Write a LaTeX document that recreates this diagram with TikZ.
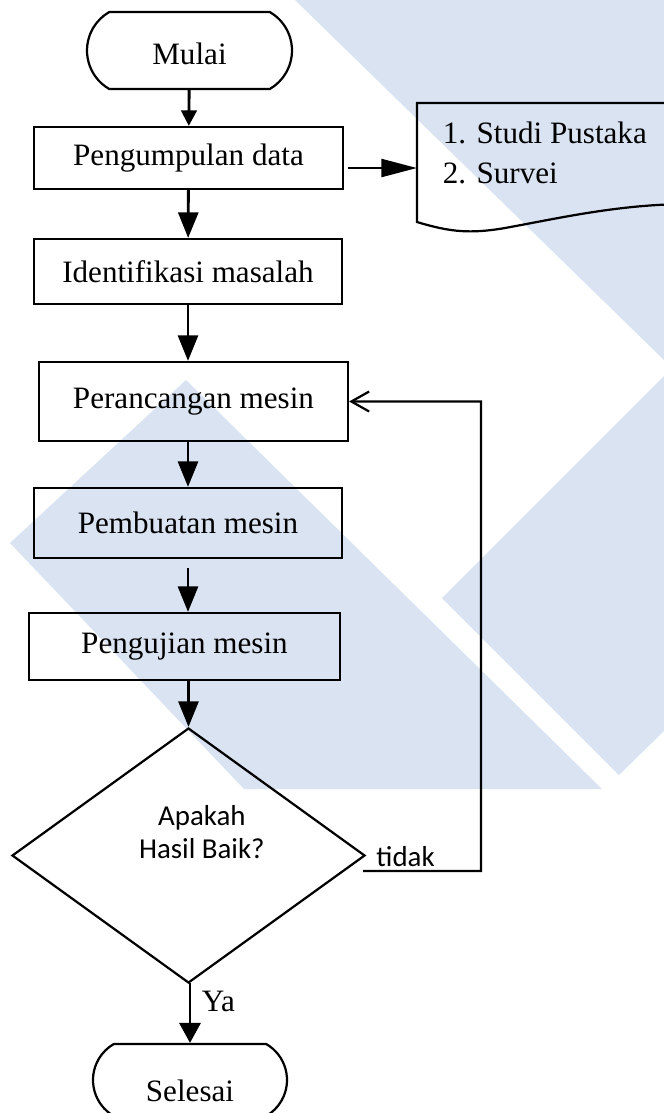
\documentclass[tikz,border=0pt]{standalone}
\usepackage{fontspec}
\setmainfont{Liberation Serif}
\newfontfamily\calibri{Carlito}
\usetikzlibrary{arrows.meta,shapes.geometric,shapes.misc,calc}
\def\pxu{0.45pt}
\definecolor{watermark}{RGB}{218,227,242}
\tikzset{
	teks/.style={font=\fontsize{14}{18}\selectfont},
	tekscal/.style={font=\calibri\fontsize{13}{15}\selectfont, align=center},
	proses/.style={draw, line width=1pt, rectangle, inner sep=0pt, teks},
	terminal/.style={draw, line width=1pt, rounded rectangle, rounded rectangle arc length=120, inner sep=0pt, teks},
	keputusan/.style={draw, line width=1pt, diamond, inner sep=0pt},
	panah/.style={line width=1.3pt, -{Triangle[length=11.5pt,width=9pt]}},
	balik/.style={line width=1pt, -{Straight Barb[length=8pt,width=9pt]}},
}

\begin{document}
\begin{tikzpicture}[x=0.45pt, y=-0.45pt]
			%%%%% START %%%%%
			\useasboundingbox (0, 0) rectangle (664, 1113);
			\clip (0, 0) rectangle (664, 1113);
			
			% background mark
			\fill[watermark] (295, 0) -- (664, 0) -- (664, 360) -- cycle;
			\fill[watermark] (10, 543) -- (186, 380) -- (602, 789) -- (244, 789) -- cycle;
			\fill[watermark] (442, 598) -- (664, 376) -- (664, 731) -- (619, 775) -- cycle;
			
			\node[terminal, minimum width=205*\pxu, minimum height=77*\pxu, text height=13pt, text depth=0pt] (mulai) at (189.5, 50.5) {Mulai};
			\node[proses, minimum width=309*\pxu, minimum height=62*\pxu] (kumpul) at (188.5, 158) {Pengumpulan data};
			\node[proses, minimum width=308*\pxu, minimum height=65*\pxu] (identif) at (188, 271.5) {Identifikasi masalah};
			\node[proses, minimum width=309*\pxu, minimum height=79*\pxu] (rancang) at (193.5, 401.5) {Perancangan mesin};
			\node[proses, minimum width=308*\pxu, minimum height=70*\pxu] (buat) at (188, 523) {Pembuatan mesin};
			\node[proses, minimum width=311*\pxu, minimum height=67*\pxu] (uji) at (184.5, 646.5) {Pengujian mesin};
			\node[keputusan, minimum width=353*\pxu, minimum height=255*\pxu,
				label={[tekscal, xshift=6pt, yshift=10.5pt]center:Apakah\\Hasil Baik?}] (cek) at (188.5, 855.5) {};
			\node[terminal, minimum width=194*\pxu, minimum height=72*\pxu, text height=19pt, text depth=0pt] (selesai) at (190, 1080) {Selesai};
			
			% dokumen
			\draw[line width=1pt] (690, 103) -- (417, 103) -- (417, 222)
				.. controls (450, 232) and (470, 234) .. (505, 228)
				.. controls (560, 218) and (620, 204) .. (690, 204);
			\node[teks, align=left, anchor=west, inner sep=2pt] (sumber) at (438, 153) {1. Studi Pustaka\\2. Survei};
			\coordinate (dok) at (417, 168);
			
			\draw[panah, -{Triangle[length=7pt,width=7pt]}] (mulai) -- (kumpul);
			\draw[panah, -{Triangle[length=16pt,width=8pt]}, shorten <=1.8pt] (kumpul.east |- dok) -- (dok);
			\draw[panah] (kumpul) -- (identif);
			\draw[panah] (identif.south) -- (identif.south |- rancang.north);
			\draw[panah] (buat.north |- rancang.south) -- (buat.north);
			\draw[panah] (uji.north -| buat.south) ++(0, -44) -- (uji.north -| buat.south);
			\draw[panah] (cek.north |- uji.south) -- (cek.north);
			\draw[panah, -{Triangle[length=9pt,width=9.5pt]}] (cek.south) -- (selesai.north |- cek.south) -- (selesai.north);
			\node[teks, anchor=west] (ya) at (194, 1001) {Ya};
			
			% kembali ke perancangan
			\coordinate (belok) at (481, 871);
			\draw[balik] ($(cek.east)+(-3, 15.5)$) -- (belok) |- (rancang.east);
			\node[tekscal, anchor=base west, inner sep=0pt] (tidak) at (376, 866) {tidak};
			
			%%%%% END %%%%%
		\end{tikzpicture}
\end{document}
